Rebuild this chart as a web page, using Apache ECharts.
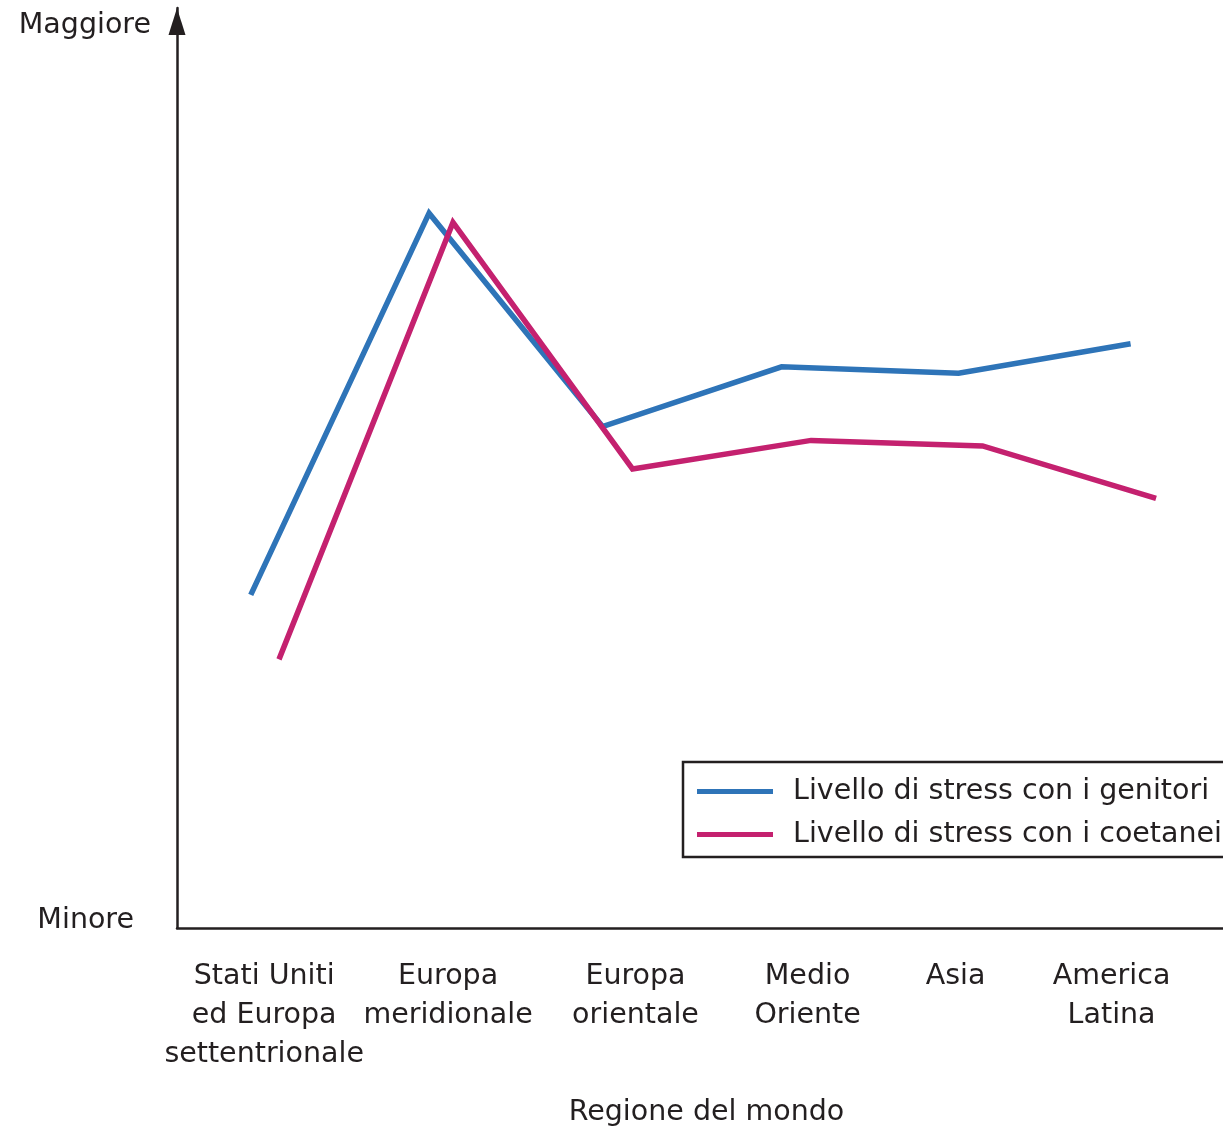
<!DOCTYPE html>
<html>
<head>
<meta charset="utf-8">
<script src="https://cdn.jsdelivr.net/npm/echarts@6/dist/echarts.min.js"></script>
<style>
html,body{margin:0;padding:0;background:#fff;}
#chart{width:1223px;height:1128px;}
</style>
</head>
<body>
<div id="chart"></div>
<script>
// Categories (x-axis regions) and where their labels sit on the horizontal scale
const categories = ['Stati Uniti\ned Europa\nsettentrionale', 'Europa\nmeridionale', 'Europa\norientale', 'Medio\nOriente', 'Asia', 'America\nLatina'];
const labelPos = [0.50, 1.555, 2.63, 3.617, 4.466, 5.361];

// Series: stress with parents (blue)
const genitoriX = [0.423, 1.446, 2.441, 3.468, 4.483, 5.470];
const genitoriY = [36.2, 77.7, 54.5, 61.0, 60.3, 63.5];

// Series: stress with peers (magenta)
const coetaneiX = [0.585, 1.583, 2.613, 3.637, 4.621, 5.616];
const coetaneiY = [29.2, 76.7, 49.9, 53.0, 52.4, 46.7];

// Y tick labels
const yTickValues = [0, 100];
const yTickLabels = ['Minore', 'Maggiore'];

const seriesNames = ['Livello di stress con i genitori', 'Livello di stress con i coetanei'];
const xName = 'Regione del mondo';

const FONT = 'DejaVu Sans';
const TXT = '#231f20';

const chart = echarts.init(document.getElementById('chart'), null, {renderer: 'canvas'});

// an empty label at the axis origin keeps ECharts' min-label overlap check from hiding a real label
const xLabelValues = [0].concat(labelPos);

const option = {
  animation: false,
  backgroundColor: '#ffffff',
  textStyle: {fontFamily: FONT, color: TXT},
  grid: {left: 177, right: 0, top: 8, bottom: 200, containLabel: false, outerBoundsMode: 'none'},
  legend: {
    orient: 'vertical',
    left: 683,
    top: 762,
    padding: [12, 20, 5, 14],
    borderColor: '#231f20',
    borderWidth: 2.5,
    itemGap: 8,
    itemWidth: 76,
    itemHeight: 5,
    icon: 'rect',
    textStyle: {fontFamily: FONT, fontSize: 28.5, color: TXT, lineHeight: 32, padding: [3, 0, 0, 15]},
    data: seriesNames
  },
  xAxis: {
    type: 'value',
    min: 0,
    max: 6,
    name: xName,
    nameLocation: 'middle',
    nameGap: 170,
    nameTextStyle: {fontFamily: FONT, fontSize: 28.5, color: TXT, padding: [0, 0, 0, 13]},
    axisLine: {show: true, symbol: ['none', 'none'], lineStyle: {color: '#231f20', width: 2.5}},
    axisTick: {show: false},
    splitLine: {show: false},
    axisLabel: {
      customValues: xLabelValues,
      interval: 0,
      showMinLabel: false,
      showMaxLabel: true,
      hideOverlap: false,
      margin: 29,
      fontFamily: FONT,
      fontSize: 28.5,
      color: TXT,
      lineHeight: 39,
      align: 'center',
      formatter: function (v) {
        const k = labelPos.indexOf(v);
        return k < 0 ? '' : categories[k];
      }
    }
  },
  yAxis: {
    type: 'value',
    min: 0,
    max: 100,
    axisLine: {show: true, symbol: ['none', 'triangle'], symbolSize: [17, 27], symbolOffset: [0, -13.5], lineStyle: {color: '#231f20', width: 2.5}},
    axisTick: {show: false},
    splitLine: {show: false},
    axisLabel: {
      customValues: yTickValues,
      interval: 0,
      showMinLabel: true,
      showMaxLabel: true,
      margin: 26,
      fontFamily: FONT,
      fontSize: 28.5,
      color: TXT,
      formatter: function (v) {
        const k = yTickValues.indexOf(v);
        return k === 0 ? '{a|' + yTickLabels[0] + '}' : '{b|' + yTickLabels[1] + '}';
      },
      rich: {
        a: {fontFamily: FONT, fontSize: 28.5, color: TXT, padding: [0, 17, 14, 0]},
        b: {fontFamily: FONT, fontSize: 28.5, color: TXT, padding: [36, 0, 0, 0]}
      }
    }
  },
  series: [
    {
      name: seriesNames[0],
      type: 'line',
      showSymbol: false,
      symbol: 'none',
      color: '#2e74b8',
      lineStyle: {width: 5.5, color: '#2e74b8', cap: 'butt', join: 'miter'},
      data: genitoriX.map((x, i) => [x, genitoriY[i]])
    },
    {
      name: seriesNames[1],
      type: 'line',
      showSymbol: false,
      symbol: 'none',
      color: '#c4216f',
      lineStyle: {width: 5.5, color: '#c4216f', cap: 'butt', join: 'miter'},
      data: coetaneiX.map((x, i) => [x, coetaneiY[i]])
    }
  ]
};

chart.setOption(option);
</script>
</body>
</html>
